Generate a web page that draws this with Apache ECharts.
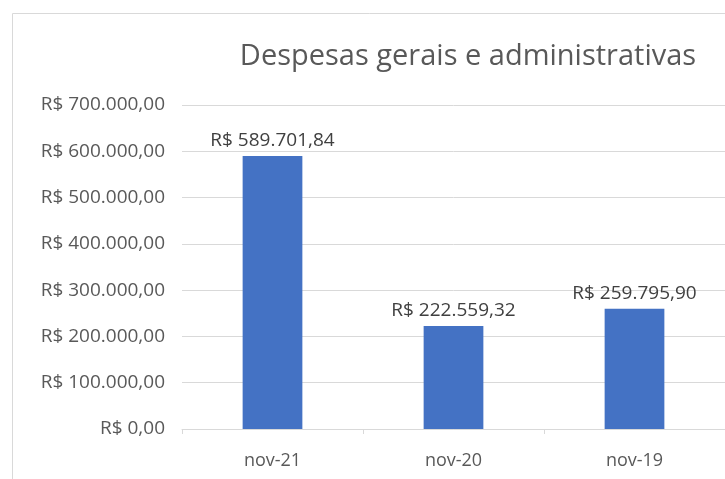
<!DOCTYPE html>
<html><head><meta charset="utf-8">
<script src="https://cdn.jsdelivr.net/npm/echarts@6/dist/echarts.min.js"></script>
<style>html,body{margin:0;padding:0;background:#fff}#c{width:725px;height:479px}</style>
</head><body><div id="c"></div>
<script>
const title = 'Despesas gerais e administrativas';
const categories = ['nov-21', 'nov-20', 'nov-19'];
const values = [589701.84, 222559.32, 259795.90];
const yMin = 0, yMax = 700000, yStep = 100000;

function brl(v) {
  const parts = Math.abs(v).toFixed(2).split('.');
  const intPart = parts[0].replace(/\B(?=(\d{3})+(?!\d))/g, '.');
  return 'R$ ' + intPart + ',' + parts[1];
}
const FONT = 'Open Sans';
const chart = echarts.init(document.getElementById('c'));
chart.setOption({
  animation: false,
  title: {
    text: title, left: 463, top: 37, textAlign: 'center',
    textStyle: { fontFamily: FONT, fontSize: 29, fontWeight: 'normal', color: '#595959' }
  },
  graphic: [{
    type: 'rect', shape: { x: 12.5, y: 13.5, width: 900, height: 900 },
    style: { fill: 'none', stroke: '#D9D9D9', lineWidth: 1 }, silent: true, z: -1
  }],
  grid: { left: 182, width: 547, top: 105, bottom: 50, containLabel: false },
  xAxis: {
    type: 'category', data: categories,
    axisLine: { lineStyle: { color: '#D9D9D9', width: 1 } },
    axisTick: { show: true, alignWithLabel: false, length: 5, lineStyle: { color: '#D9D9D9' } },
    axisLabel: { margin: 23, fontFamily: FONT, fontSize: 18, color: '#595959' }
  },
  yAxis: {
    type: 'value', min: yMin, max: yMax, interval: yStep,
    axisLine: { show: false }, axisTick: { show: false },
    splitLine: { lineStyle: { color: '#D9D9D9', width: 1 } },
    axisLabel: { margin: 17, fontFamily: FONT, fontSize: 19, color: '#595959', formatter: v => brl(v) }
  },
  series: [{
    type: 'bar', data: values, barWidth: '33%',
    itemStyle: { color: '#4472C4' },
    label: { show: true, position: 'top', distance: 6, fontFamily: FONT, fontSize: 19, color: '#404040',
      formatter: p => brl(p.value) }
  }]
});
</script></body></html>
